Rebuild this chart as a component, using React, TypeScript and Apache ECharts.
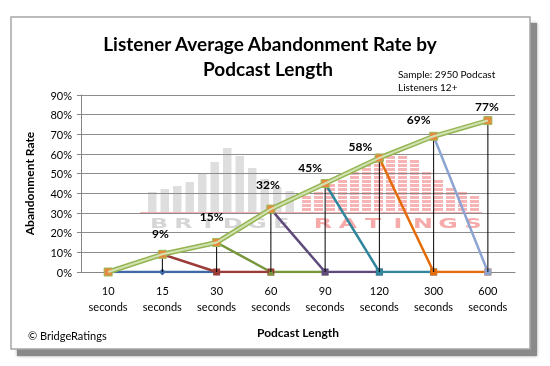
import React, { useEffect, useRef } from "react";
import * as echarts from "echarts";

const CATEGORIES = ["10\nseconds", "15\nseconds", "30\nseconds", "60\nseconds", "90\nseconds", "120\nseconds", "300\nseconds", "600\nseconds"];
const Y_TICKS = [0, 10, 20, 30, 40, 50, 60, 70, 80, 90];
const MAIN = [0, 9, 15, 32, 45, 58, 69, 77];
const S_10 = [0, 0, 0, null, null, null, null, null];
const S_15 = [null, 9, 0, 0, null, null, null, null];
const S_30 = [null, null, 15, 0, 0, null, null, null];
const S_60 = [null, null, null, 32, 0, 0, null, null];
const S_90 = [null, null, null, null, 45, 0, 0, null];
const S_120 = [null, null, null, null, null, 58, 0, 0];
const S_300 = [null, null, null, null, null, null, 69, 0];

// label placement (style only)
const LABEL_OFFSETS = [[0, -18], [-2, -21], [-5, -26], [-3, -25], [-15, -16], [-19, -11], [-15, -17], [-1, -14]];

// watermark decoration (style only)
const WM_GRAY = [20, 23, 26, 30, 38, 50, 64, 56, 44, 33, 25, 21];
const WM_PINK = [17, 22, 29, 34, 42, 50, 59, 62, 57, 52, 42, 32, 24, 20, 17];

const FONT = "Lato, 'Open Sans', sans-serif";

export default function App() {
  const ref = useRef<HTMLDivElement>(null);
  useEffect(() => {
    if (!ref.current) return;
    const chart = echarts.init(ref.current, null, { renderer: "svg" });

    const graphics: any[] = [];
    graphics.push({
      type: "rect",
      z: -21,
      shape: { x: 17, y: 23, width: 520, height: 333 },
      style: { fill: "#8a8a8a", shadowBlur: 3, shadowColor: "rgba(0,0,0,0.4)" },
    });
    graphics.push({
      type: "rect",
      z: -20,
      shape: { x: 11, y: 17, width: 519, height: 332 },
      style: { fill: "#ffffff", stroke: "#a6a6a6", lineWidth: 1.5 },
    });
    const baseY = 212;
    WM_GRAY.forEach((h, i) => {
      graphics.push({
        type: "rect",
        z: -10,
        shape: { x: 148 + i * 12.5, y: baseY - h, width: 8.5, height: h },
        style: { fill: "#dedede" },
      });
    });
    WM_PINK.forEach((h, i) => {
      const n = Math.floor(h / 4);
      for (let k = 0; k < n; k++) {
        graphics.push({
          type: "rect",
          z: -10,
          shape: { x: 302 + i * 12, y: baseY - (k + 1) * 4, width: 9, height: 3 },
          style: { fill: "#f7b4b4" },
        });
      }
    });
    graphics.push({
      type: "line",
      z: -10,
      shape: { x1: 140, y1: baseY + 0.5, x2: 482, y2: baseY + 0.5 },
      style: { stroke: "#f2b0b0", lineWidth: 1 },
    });
    "BRIDGE".split("").forEach((ch, i) => {
      graphics.push({
        type: "text",
        z: -10,
        x: 159 + i * 24.5,
        y: 223,
        scaleX: 1.7,
        style: {
          text: ch,
          fill: "#d6d6d6",
          font: "bold 14px 'DejaVu Sans', sans-serif",
          textAlign: "center",
          textVerticalAlign: "middle",
        },
      });
    });
    "RATINGS".split("").forEach((ch, i) => {
      graphics.push({
        type: "text",
        z: -10,
        x: 323 + i * 25,
        y: 223,
        scaleX: 1.7,
        style: {
          text: ch,
          fill: "#f6aaaa",
          font: "bold 14px 'DejaVu Sans', sans-serif",
          textAlign: "center",
          textVerticalAlign: "middle",
        },
      });
    });
    graphics.push({
      type: "text",
      z: 50,
      x: 270,
      y: 43,
      style: {
        text: "Listener Average Abandonment Rate by",
        fill: "#000",
        font: `bold 19px ${FONT}`,
        textAlign: "center",
        textVerticalAlign: "middle",
      },
    });
    graphics.push({
      type: "text",
      z: 50,
      x: 268,
      y: 68,
      style: {
        text: "Podcast Length",
        fill: "#000",
        font: `bold 19px ${FONT}`,
        textAlign: "center",
        textVerticalAlign: "middle",
      },
    });
    graphics.push({
      type: "text",
      z: 50,
      x: 398,
      y: 74,
      style: { text: "Sample: 2950 Podcast", fill: "#000", font: `10px ${FONT}`, textVerticalAlign: "middle" },
    });
    graphics.push({
      type: "text",
      z: 50,
      x: 398,
      y: 87,
      style: { text: "Listeners 12+", fill: "#000", font: `10px ${FONT}`, textVerticalAlign: "middle" },
    });
    graphics.push({
      type: "text",
      z: 50,
      x: 28,
      y: 335,
      style: { text: "© BridgeRatings", fill: "#000", font: `11px ${FONT}`, textVerticalAlign: "middle" },
    });

    const sub = (name: string, data: (number | null)[], color: string, symbol: string) => ({
      name,
      type: "line",
      data,
      z: 3,
      connectNulls: false,
      symbol,
      symbolSize: 7,
      lineStyle: { color, width: 2.5 },
      itemStyle: { color },
    });

    chart.setOption({
      animation: false,
      graphic: { elements: graphics },
      grid: { left: 81, right: 35, top: 95, bottom: 94, containLabel: false },
      xAxis: {
        type: "category",
        data: CATEGORIES,
        boundaryGap: true,
        name: "Podcast Length",
        nameLocation: "middle",
        nameGap: 54,
        nameTextStyle: { fontFamily: FONT, fontWeight: "bold", fontSize: 12, color: "#000" },
        axisLine: { lineStyle: { color: "#868686", width: 1 } },
        axisTick: { show: false },
        axisLabel: { fontFamily: FONT, fontSize: 11, color: "#000", lineHeight: 16, margin: 10 },
        splitLine: { show: false },
      },
      yAxis: {
        type: "value",
        min: Y_TICKS[0],
        max: Y_TICKS[Y_TICKS.length - 1],
        interval: 10,
        name: "Abandonment Rate",
        nameLocation: "middle",
        nameGap: 46,
        nameRotate: 90,
        nameTextStyle: { fontFamily: FONT, fontWeight: "bold", fontSize: 12, color: "#000" },
        axisLine: { show: true, lineStyle: { color: "#868686", width: 1 } },
        axisTick: { show: true, inside: false, length: 4, lineStyle: { color: "#868686" } },
        axisLabel: { fontFamily: FONT, fontSize: 11, color: "#000", margin: 9, formatter: "{value}%" },
        splitLine: { show: true, lineStyle: { color: "#8c8c8c", width: 1 } },
      },
      series: [
        sub("10 seconds", S_10, "#3E69A6", "diamond"),
        sub("15 seconds", S_15, "#9B3B38", "rect"),
        sub("30 seconds", S_30, "#77963A", "triangle"),
        sub("60 seconds", S_60, "#5F4A7C", "rect"),
        sub("90 seconds", S_90, "#31869D", "rect"),
        sub("120 seconds", S_120, "#E46C0A", "rect"),
        sub("300 seconds", S_300, "#8DA4D2", "rect"),
        {
          name: "drop",
          type: "bar",
          data: MAIN,
          barWidth: 1,
          z: 4,
          itemStyle: { color: "#000" },
          silent: true,
        },
        {
          name: "Average (inner)",
          type: "line",
          data: MAIN,
          z: 6,
          symbol: "none",
          lineStyle: { color: "#D3E2B3", width: 2 },
        },
        {
          name: "Average",
          type: "line",
          data: MAIN,
          z: 5,
          symbol: "rect",
          symbolSize: 8,
          lineStyle: { color: "#94B552", width: 5 },
          itemStyle: { color: "#E38B3E", borderColor: "#9BBB59", borderWidth: 1 },
          label: {
            show: true,
            position: "inside",
            formatter: (p: any) => (p.dataIndex === 0 ? "" : p.value + "%"),
            fontFamily: FONT,
            fontWeight: "bold",
            fontSize: 12,
            color: "#000",
          },
          labelLayout: (p: any) => {
            const o = LABEL_OFFSETS[p.dataIndex] || [0, 0];
            return { dx: o[0], dy: o[1] };
          },
        },
      ],
    });
    return () => chart.dispose();
  }, []);
  return <div ref={ref} style={{ position: "fixed", left: 0, top: 0, width: 550, height: 366 }} />;
}
